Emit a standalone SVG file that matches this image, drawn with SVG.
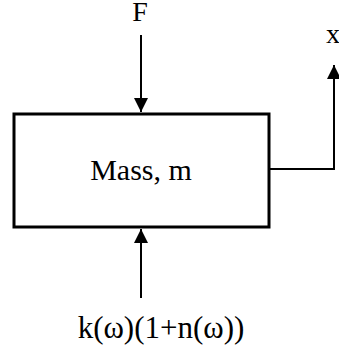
<svg xmlns="http://www.w3.org/2000/svg" width="339" height="348" viewBox="0 0 339 348">
<style>
.t{font-family:'Liberation Serif','DejaVu Serif',serif;fill:#000}
.ln{stroke:#000;stroke-width:2;fill:none}
</style>
<defs>
<marker id="ah" markerUnits="userSpaceOnUse" markerWidth="14" markerHeight="16" refX="14" refY="7" orient="auto">
<path d="M0,0 L14,7 L0,14 Z" fill="#000"/>
</marker>
</defs>
<rect width="339" height="348" fill="#fff"/>
<g id="mass">
<rect x="14" y="114" width="255" height="113" fill="#fff" stroke="#000" stroke-width="3"/>
<text class="t" x="141" y="180" font-size="30" text-anchor="middle">Mass, m</text>
</g>
<g id="labelF"><text class="t" x="140" y="21" font-size="28" text-anchor="middle">F</text></g>
<g id="labelX"><text class="t" x="333" y="43" font-size="28" text-anchor="middle">x</text></g>
<g id="labelK"><text class="t" x="161" y="338" font-size="31" text-anchor="middle">k(ω)(1+n(ω))</text></g>
<g id="connectors">
<line class="ln" x1="141" y1="35" x2="141" y2="112" marker-end="url(#ah)"/>
<line class="ln" x1="141" y1="298" x2="141" y2="229" marker-end="url(#ah)"/>
<polyline class="ln" points="269,169 334,169 334,65" marker-end="url(#ah)"/>
</g>
</svg>
